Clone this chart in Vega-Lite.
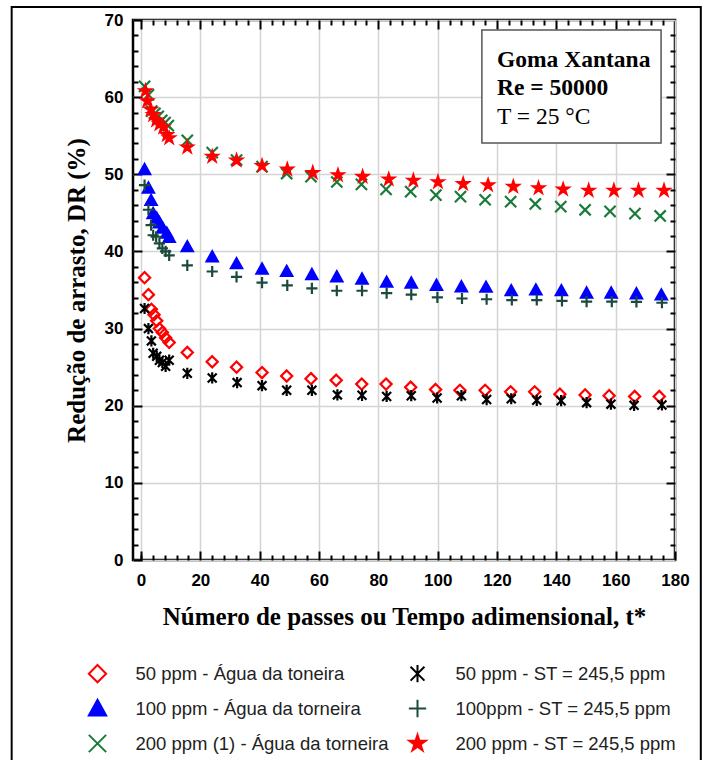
{
  "$schema": "https://vega.github.io/schema/vega-lite/v6.json",
  "autosize": "none",
  "width": 542,
  "height": 540,
  "padding": {"left": 133, "top": 20, "right": 29, "bottom": 200},
  "background": "white",
  "config": {
    "font": "Liberation Sans",
    "view": {"stroke": "black", "strokeWidth": 2.5}
  },
  "datasets": {
    "dr": [
      {"s": "50  ppm - Água da toneira", "t": 1.2, "dr": 36.6},
      {"s": "50  ppm - Água da toneira", "t": 2.5, "dr": 34.4},
      {"s": "50  ppm - Água da toneira", "t": 3.5, "dr": 32.5},
      {"s": "50  ppm - Água da toneira", "t": 4.4, "dr": 31.8},
      {"s": "50  ppm - Água da toneira", "t": 5.3, "dr": 31.0},
      {"s": "50  ppm - Água da toneira", "t": 6.2, "dr": 30.0},
      {"s": "50  ppm - Água da toneira", "t": 7.2, "dr": 29.5},
      {"s": "50  ppm - Água da toneira", "t": 8.3, "dr": 28.8},
      {"s": "50  ppm - Água da toneira", "t": 9.5, "dr": 28.2},
      {"s": "50  ppm - Água da toneira", "t": 15.6, "dr": 26.9},
      {"s": "50  ppm - Água da toneira", "t": 24.0, "dr": 25.7},
      {"s": "50  ppm - Água da toneira", "t": 32.2, "dr": 25.0},
      {"s": "50  ppm - Água da toneira", "t": 40.8, "dr": 24.3},
      {"s": "50  ppm - Água da toneira", "t": 49.1, "dr": 23.85},
      {"s": "50  ppm - Água da toneira", "t": 57.3, "dr": 23.5},
      {"s": "50  ppm - Água da toneira", "t": 65.8, "dr": 23.3},
      {"s": "50  ppm - Água da toneira", "t": 74.4, "dr": 22.8},
      {"s": "50  ppm - Água da toneira", "t": 82.6, "dr": 22.8},
      {"s": "50  ppm - Água da toneira", "t": 90.9, "dr": 22.4},
      {"s": "50  ppm - Água da toneira", "t": 99.3, "dr": 22.1},
      {"s": "50  ppm - Água da toneira", "t": 107.5, "dr": 22.0},
      {"s": "50  ppm - Água da toneira", "t": 116.0, "dr": 22.0},
      {"s": "50  ppm - Água da toneira", "t": 124.6, "dr": 21.8},
      {"s": "50  ppm - Água da toneira", "t": 132.7, "dr": 21.8},
      {"s": "50  ppm - Água da toneira", "t": 141.2, "dr": 21.5},
      {"s": "50  ppm - Água da toneira", "t": 149.7, "dr": 21.4},
      {"s": "50  ppm - Água da toneira", "t": 157.8, "dr": 21.3},
      {"s": "50  ppm - Água da toneira", "t": 166.4, "dr": 21.2},
      {"s": "50  ppm - Água da toneira", "t": 174.7, "dr": 21.2},

      {"s": "50 ppm - ST = 245,5 ppm", "t": 1.2, "dr": 32.6},
      {"s": "50 ppm - ST = 245,5 ppm", "t": 2.5, "dr": 30.0},
      {"s": "50 ppm - ST = 245,5 ppm", "t": 3.5, "dr": 28.4},
      {"s": "50 ppm - ST = 245,5 ppm", "t": 4.1, "dr": 26.8},
      {"s": "50 ppm - ST = 245,5 ppm", "t": 5.3, "dr": 26.4},
      {"s": "50 ppm - ST = 245,5 ppm", "t": 6.2, "dr": 25.9},
      {"s": "50 ppm - ST = 245,5 ppm", "t": 7.2, "dr": 25.6},
      {"s": "50 ppm - ST = 245,5 ppm", "t": 8.3, "dr": 25.1},
      {"s": "50 ppm - ST = 245,5 ppm", "t": 9.5, "dr": 25.9},
      {"s": "50 ppm - ST = 245,5 ppm", "t": 15.6, "dr": 24.2},
      {"s": "50 ppm - ST = 245,5 ppm", "t": 24.0, "dr": 23.6},
      {"s": "50 ppm - ST = 245,5 ppm", "t": 32.4, "dr": 23.0},
      {"s": "50 ppm - ST = 245,5 ppm", "t": 40.8, "dr": 22.6},
      {"s": "50 ppm - ST = 245,5 ppm", "t": 49.1, "dr": 22.0},
      {"s": "50 ppm - ST = 245,5 ppm", "t": 57.6, "dr": 22.0},
      {"s": "50 ppm - ST = 245,5 ppm", "t": 66.2, "dr": 21.4},
      {"s": "50 ppm - ST = 245,5 ppm", "t": 74.5, "dr": 21.35},
      {"s": "50 ppm - ST = 245,5 ppm", "t": 82.8, "dr": 21.2},
      {"s": "50 ppm - ST = 245,5 ppm", "t": 91.1, "dr": 21.3},
      {"s": "50 ppm - ST = 245,5 ppm", "t": 99.8, "dr": 21.0},
      {"s": "50 ppm - ST = 245,5 ppm", "t": 108.0, "dr": 21.3},
      {"s": "50 ppm - ST = 245,5 ppm", "t": 116.5, "dr": 20.8},
      {"s": "50 ppm - ST = 245,5 ppm", "t": 124.8, "dr": 20.9},
      {"s": "50 ppm - ST = 245,5 ppm", "t": 133.4, "dr": 20.7},
      {"s": "50 ppm - ST = 245,5 ppm", "t": 141.6, "dr": 20.65},
      {"s": "50 ppm - ST = 245,5 ppm", "t": 150.2, "dr": 20.4},
      {"s": "50 ppm - ST = 245,5 ppm", "t": 158.4, "dr": 20.2},
      {"s": "50 ppm - ST = 245,5 ppm", "t": 166.2, "dr": 20.05},
      {"s": "50 ppm - ST = 245,5 ppm", "t": 175.6, "dr": 20.1},

      {"s": "100 ppm - Água da torneira", "t": 1.2, "dr": 50.6},
      {"s": "100 ppm - Água da torneira", "t": 2.5, "dr": 48.2},
      {"s": "100 ppm - Água da torneira", "t": 3.4, "dr": 46.6},
      {"s": "100 ppm - Água da torneira", "t": 4.1, "dr": 44.9},
      {"s": "100 ppm - Água da torneira", "t": 5.3, "dr": 44.3},
      {"s": "100 ppm - Água da torneira", "t": 6.2, "dr": 43.7},
      {"s": "100 ppm - Água da torneira", "t": 7.3, "dr": 43.0},
      {"s": "100 ppm - Água da torneira", "t": 8.7, "dr": 42.35},
      {"s": "100 ppm - Água da torneira", "t": 9.5, "dr": 41.8},
      {"s": "100 ppm - Água da torneira", "t": 15.6, "dr": 40.6},
      {"s": "100 ppm - Água da torneira", "t": 24.0, "dr": 39.3},
      {"s": "100 ppm - Água da torneira", "t": 32.2, "dr": 38.4},
      {"s": "100 ppm - Água da torneira", "t": 40.8, "dr": 37.7},
      {"s": "100 ppm - Água da torneira", "t": 49.1, "dr": 37.4},
      {"s": "100 ppm - Água da torneira", "t": 57.6, "dr": 37.0},
      {"s": "100 ppm - Água da torneira", "t": 66.0, "dr": 36.7},
      {"s": "100 ppm - Água da torneira", "t": 74.5, "dr": 36.4},
      {"s": "100 ppm - Água da torneira", "t": 82.8, "dr": 36.0},
      {"s": "100 ppm - Água da torneira", "t": 91.1, "dr": 35.9},
      {"s": "100 ppm - Água da torneira", "t": 99.6, "dr": 35.6},
      {"s": "100 ppm - Água da torneira", "t": 108.0, "dr": 35.4},
      {"s": "100 ppm - Água da torneira", "t": 116.3, "dr": 35.35},
      {"s": "100 ppm - Água da torneira", "t": 124.8, "dr": 34.9},
      {"s": "100 ppm - Água da torneira", "t": 133.1, "dr": 35.0},
      {"s": "100 ppm - Água da torneira", "t": 141.7, "dr": 34.9},
      {"s": "100 ppm - Água da torneira", "t": 150.2, "dr": 34.6},
      {"s": "100 ppm - Água da torneira", "t": 158.5, "dr": 34.6},
      {"s": "100 ppm - Água da torneira", "t": 167.0, "dr": 34.5},
      {"s": "100 ppm - Água da torneira", "t": 175.4, "dr": 34.35},

      {"s": "100ppm - ST = 245,5 ppm", "t": 1.2, "dr": 48.6},
      {"s": "100ppm - ST = 245,5 ppm", "t": 2.5, "dr": 45.4},
      {"s": "100ppm - ST = 245,5 ppm", "t": 3.4, "dr": 43.4},
      {"s": "100ppm - ST = 245,5 ppm", "t": 4.1, "dr": 42.1},
      {"s": "100ppm - ST = 245,5 ppm", "t": 5.1, "dr": 41.9},
      {"s": "100ppm - ST = 245,5 ppm", "t": 6.2, "dr": 41.05},
      {"s": "100ppm - ST = 245,5 ppm", "t": 7.2, "dr": 40.4},
      {"s": "100ppm - ST = 245,5 ppm", "t": 8.3, "dr": 40.0},
      {"s": "100ppm - ST = 245,5 ppm", "t": 9.5, "dr": 39.5},
      {"s": "100ppm - ST = 245,5 ppm", "t": 15.6, "dr": 38.2},
      {"s": "100ppm - ST = 245,5 ppm", "t": 24.0, "dr": 37.4},
      {"s": "100ppm - ST = 245,5 ppm", "t": 32.2, "dr": 36.7},
      {"s": "100ppm - ST = 245,5 ppm", "t": 40.8, "dr": 35.95},
      {"s": "100ppm - ST = 245,5 ppm", "t": 49.3, "dr": 35.6},
      {"s": "100ppm - ST = 245,5 ppm", "t": 57.6, "dr": 35.2},
      {"s": "100ppm - ST = 245,5 ppm", "t": 66.0, "dr": 34.9},
      {"s": "100ppm - ST = 245,5 ppm", "t": 74.5, "dr": 34.9},
      {"s": "100ppm - ST = 245,5 ppm", "t": 82.8, "dr": 34.6},
      {"s": "100ppm - ST = 245,5 ppm", "t": 91.1, "dr": 34.4},
      {"s": "100ppm - ST = 245,5 ppm", "t": 99.9, "dr": 34.05},
      {"s": "100ppm - ST = 245,5 ppm", "t": 108.2, "dr": 33.9},
      {"s": "100ppm - ST = 245,5 ppm", "t": 116.5, "dr": 33.8},
      {"s": "100ppm - ST = 245,5 ppm", "t": 125.0, "dr": 33.7},
      {"s": "100ppm - ST = 245,5 ppm", "t": 133.4, "dr": 33.7},
      {"s": "100ppm - ST = 245,5 ppm", "t": 141.9, "dr": 33.6},
      {"s": "100ppm - ST = 245,5 ppm", "t": 150.2, "dr": 33.5},
      {"s": "100ppm - ST = 245,5 ppm", "t": 158.7, "dr": 33.5},
      {"s": "100ppm - ST = 245,5 ppm", "t": 167.0, "dr": 33.45},
      {"s": "100ppm - ST = 245,5 ppm", "t": 175.6, "dr": 33.35},

      {"s": "200 ppm (1) - Água da torneira", "t": 1.2, "dr": 61.4},
      {"s": "200 ppm (1) - Água da torneira", "t": 2.5, "dr": 60.3},
      {"s": "200 ppm (1) - Água da torneira", "t": 3.6, "dr": 58.2},
      {"s": "200 ppm (1) - Água da torneira", "t": 4.7, "dr": 57.9},
      {"s": "200 ppm (1) - Água da torneira", "t": 5.8, "dr": 57.5},
      {"s": "200 ppm (1) - Água da torneira", "t": 7.0, "dr": 57.0},
      {"s": "200 ppm (1) - Água da torneira", "t": 8.1, "dr": 56.7},
      {"s": "200 ppm (1) - Água da torneira", "t": 9.2, "dr": 56.3},
      {"s": "200 ppm (1) - Água da torneira", "t": 15.6, "dr": 54.4},
      {"s": "200 ppm (1) - Água da torneira", "t": 24.0, "dr": 52.8},
      {"s": "200 ppm (1) - Água da torneira", "t": 32.2, "dr": 51.85},
      {"s": "200 ppm (1) - Água da torneira", "t": 40.8, "dr": 51.0},
      {"s": "200 ppm (1) - Água da torneira", "t": 49.1, "dr": 50.1},
      {"s": "200 ppm (1) - Água da torneira", "t": 57.3, "dr": 49.7},
      {"s": "200 ppm (1) - Água da torneira", "t": 66.0, "dr": 49.0},
      {"s": "200 ppm (1) - Água da torneira", "t": 74.3, "dr": 48.7},
      {"s": "200 ppm (1) - Água da torneira", "t": 82.6, "dr": 48.05},
      {"s": "200 ppm (1) - Água da torneira", "t": 90.9, "dr": 47.75},
      {"s": "200 ppm (1) - Água da torneira", "t": 99.4, "dr": 47.3},
      {"s": "200 ppm (1) - Água da torneira", "t": 107.7, "dr": 47.1},
      {"s": "200 ppm (1) - Água da torneira", "t": 116.0, "dr": 46.7},
      {"s": "200 ppm (1) - Água da torneira", "t": 124.6, "dr": 46.45},
      {"s": "200 ppm (1) - Água da torneira", "t": 132.9, "dr": 46.15},
      {"s": "200 ppm (1) - Água da torneira", "t": 141.5, "dr": 45.8},
      {"s": "200 ppm (1) - Água da torneira", "t": 149.7, "dr": 45.4},
      {"s": "200 ppm (1) - Água da torneira", "t": 158.1, "dr": 45.2},
      {"s": "200 ppm (1) - Água da torneira", "t": 166.5, "dr": 44.9},
      {"s": "200 ppm (1) - Água da torneira", "t": 175.0, "dr": 44.6},

      {"s": "200 ppm - ST = 245,5 ppm", "t": 1.5, "dr": 60.8},
      {"s": "200 ppm - ST = 245,5 ppm", "t": 2.1, "dr": 59.5},
      {"s": "200 ppm - ST = 245,5 ppm", "t": 3.3, "dr": 58.4},
      {"s": "200 ppm - ST = 245,5 ppm", "t": 4.1, "dr": 57.7},
      {"s": "200 ppm - ST = 245,5 ppm", "t": 5.1, "dr": 57.0},
      {"s": "200 ppm - ST = 245,5 ppm", "t": 6.2, "dr": 56.5},
      {"s": "200 ppm - ST = 245,5 ppm", "t": 7.5, "dr": 56.1},
      {"s": "200 ppm - ST = 245,5 ppm", "t": 8.7, "dr": 55.1},
      {"s": "200 ppm - ST = 245,5 ppm", "t": 9.5, "dr": 54.7},
      {"s": "200 ppm - ST = 245,5 ppm", "t": 15.6, "dr": 53.5},
      {"s": "200 ppm - ST = 245,5 ppm", "t": 24.0, "dr": 52.3},
      {"s": "200 ppm - ST = 245,5 ppm", "t": 32.2, "dr": 51.8},
      {"s": "200 ppm - ST = 245,5 ppm", "t": 40.8, "dr": 51.1},
      {"s": "200 ppm - ST = 245,5 ppm", "t": 49.3, "dr": 50.65},
      {"s": "200 ppm - ST = 245,5 ppm", "t": 57.9, "dr": 50.2},
      {"s": "200 ppm - ST = 245,5 ppm", "t": 66.4, "dr": 49.9},
      {"s": "200 ppm - ST = 245,5 ppm", "t": 74.7, "dr": 49.7},
      {"s": "200 ppm - ST = 245,5 ppm", "t": 83.5, "dr": 49.35},
      {"s": "200 ppm - ST = 245,5 ppm", "t": 91.8, "dr": 49.2},
      {"s": "200 ppm - ST = 245,5 ppm", "t": 100.1, "dr": 49.0},
      {"s": "200 ppm - ST = 245,5 ppm", "t": 108.6, "dr": 48.75},
      {"s": "200 ppm - ST = 245,5 ppm", "t": 117.0, "dr": 48.6},
      {"s": "200 ppm - ST = 245,5 ppm", "t": 125.5, "dr": 48.4},
      {"s": "200 ppm - ST = 245,5 ppm", "t": 134.0, "dr": 48.2},
      {"s": "200 ppm - ST = 245,5 ppm", "t": 142.3, "dr": 48.05},
      {"s": "200 ppm - ST = 245,5 ppm", "t": 150.9, "dr": 47.9},
      {"s": "200 ppm - ST = 245,5 ppm", "t": 159.4, "dr": 47.9},
      {"s": "200 ppm - ST = 245,5 ppm", "t": 167.7, "dr": 47.9},
      {"s": "200 ppm - ST = 245,5 ppm", "t": 176.3, "dr": 47.9}
    ]
  },
  "data": {"name": "dr"},
  "resolve": {"axis": {"x": "independent", "y": "independent"}},
  "layer": [
    {
      "mark": {"type": "point", "opacity": 0},
      "encoding": {
        "x": {"field": "t", "type": "quantitative", "scale": {"domain": [-2.7, 180], "nice": false, "zero": false},
          "axis": {"orient": "bottom", "values": [0,4,8,12,16,24,28,32,36,44,48,52,56,64,68,72,76,84,88,92,96,104,108,112,116,124,128,132,136,144,148,152,156,164,168,172,176], "tickSize": -5, "tickWidth": 2, "tickColor": "black", "labels": false, "domain": false, "grid": false, "title": null}},
        "y": {"field": "dr", "type": "quantitative", "scale": {"domain": [0, 70], "nice": false, "zero": false},
          "axis": {"orient": "left", "values": [2,4,6,8,12,14,16,18,22,24,26,28,32,34,36,38,42,44,46,48,52,54,56,58,62,64,66,68], "tickSize": -5, "tickWidth": 2, "tickColor": "black", "labels": false, "domain": false, "grid": false, "title": null}}
      }
    },
    {
      "mark": {"type": "point", "opacity": 0},
      "encoding": {
        "x": {"field": "t", "type": "quantitative",
          "axis": {"orient": "top", "values": [0,20,40,60,80,100,120,140,160], "tickSize": -9, "tickWidth": 2, "tickColor": "black", "labels": false, "domain": false, "grid": false, "title": null}},
        "y": {"field": "dr", "type": "quantitative",
          "axis": {"orient": "right", "values": [10,20,30,40,50,60], "tickSize": -9, "tickWidth": 2, "tickColor": "black", "labels": false, "domain": false, "grid": false, "title": null}}
      }
    },
    {
      "mark": {"type": "point", "opacity": 0},
      "encoding": {
        "x": {"field": "t", "type": "quantitative",
          "axis": {"orient": "top", "values": [4,8,12,16,24,28,32,36,44,48,52,56,64,68,72,76,84,88,92,96,104,108,112,116,124,128,132,136,144,148,152,156,164,168,172,176], "tickSize": -5, "tickWidth": 2, "tickColor": "black", "labels": false, "domain": false, "grid": false, "title": null}},
        "y": {"field": "dr", "type": "quantitative",
          "axis": {"orient": "right", "values": [2,4,6,8,12,14,16,18,22,24,26,28,32,34,36,38,42,44,46,48,52,54,56,58,62,64,66,68], "tickSize": -5, "tickWidth": 2, "tickColor": "black", "labels": false, "domain": false, "grid": false, "title": null}}
      }
    },
    {
      "mark": {"type": "rect", "fill": null, "stroke": "black", "strokeWidth": 2, "clip": false},
      "data": {"values": [{}]},
      "encoding": {
        "x": {"datum": -43.6, "type": "quantitative", "axis": null},
        "x2": {"datum": 188.7},
        "y": {"datum": 71.7, "type": "quantitative", "axis": null},
        "y2": {"datum": -30}
      }
    },
    {
      "mark": {"type": "rect", "fill": "white", "stroke": "#555555", "strokeWidth": 1.5},
      "data": {"values": [{}]},
      "encoding": {
        "x": {"datum": 114.9, "type": "quantitative", "axis": null},
        "x2": {"datum": 175.3},
        "y": {"datum": 68.7, "type": "quantitative", "axis": null},
        "y2": {"datum": 54.06}
      }
    },
    {
      "mark": {"type": "text", "text": "Goma Xantana", "font": "Liberation Serif", "fontSize": 23.5, "fontWeight": "bold", "align": "left", "baseline": "middle", "color": "black"},
      "data": {"values": [{}]},
      "encoding": {
        "x": {"datum": 120, "type": "quantitative", "axis": null},
        "y": {"datum": 64.8, "type": "quantitative", "axis": null}
      }
    },
    {
      "mark": {"type": "text", "text": "Re = 50000", "font": "Liberation Serif", "fontSize": 23.5, "fontWeight": "bold", "align": "left", "baseline": "middle", "color": "black"},
      "data": {"values": [{}]},
      "encoding": {
        "x": {"datum": 120, "type": "quantitative", "axis": null},
        "y": {"datum": 61.2, "type": "quantitative", "axis": null}
      }
    },
    {
      "mark": {"type": "text", "text": "T = 25 °C", "font": "Liberation Serif", "fontSize": 23.5, "fontWeight": "normal", "align": "left", "baseline": "middle", "color": "black"},
      "data": {"values": [{}]},
      "encoding": {
        "x": {"datum": 120, "type": "quantitative", "axis": null},
        "y": {"datum": 57.4, "type": "quantitative", "axis": null}
      }
    },
    {
      "mark": {"type": "point", "opacity": 1, "strokeWidth": 2.2, "size": 125},
      "encoding": {
        "x": {"field": "t", "type": "quantitative",
          "axis": {"orient": "bottom", "values": [0,20,40,60,80,100,120,140,160,180], "tickSize": -9, "tickWidth": 2, "tickColor": "black", "labelFont": "Liberation Sans", "labelFontWeight": "bold", "labelFontSize": 17, "labelColor": "black", "labelPadding": 21, "labelFlush": false, "labelOverlap": false, "domain": false, "grid": true, "gridColor": "#d4d4d4", "gridWidth": 1.5,
            "title": "Número de passes ou Tempo adimensional, t*", "titleFont": "Liberation Serif", "titleFontSize": 25, "titleFontWeight": "bold", "titleColor": "black", "titlePadding": 16}},
        "y": {"field": "dr", "type": "quantitative",
          "axis": {"orient": "left", "values": [0,10,20,30,40,50,60,70], "tickSize": -9, "tickWidth": 2, "tickColor": "black", "labelFont": "Liberation Sans", "labelFontWeight": "bold", "labelFontSize": 17, "labelColor": "black", "labelPadding": 19, "labelFlush": false, "labelOverlap": false, "domain": false, "grid": true, "gridColor": "#d4d4d4", "gridWidth": 1.5,
            "title": "Redução de arrasto, DR (%)", "titleFont": "Liberation Serif", "titleFontSize": 25, "titleFontWeight": "bold", "titleColor": "black", "titlePadding": 15}},
        "shape": {"field": "s", "type": "nominal",
          "scale": {"domain": ["50  ppm - Água da toneira", "100 ppm - Água da torneira", "200 ppm (1) - Água da torneira", "50 ppm - ST = 245,5 ppm", "100ppm - ST = 245,5 ppm", "200 ppm - ST = 245,5 ppm"],
            "range": ["M0,-1L1,0L0,1L-1,0Z", "M0,-1L1,0.8L-1,0.8Z", "M-1,-1L1,1M-1,1L1,-1", "M0,-1L0,1M-0.8,-0.8L0.8,0.8M-0.8,0.8L0.8,-0.8", "M-1,0L1,0M0,-1L0,1", "M0,-1L0.225,-0.309L0.951,-0.309L0.363,0.118L0.588,0.809L0,0.382L-0.588,0.809L-0.363,0.118L-0.951,-0.309L-0.225,-0.309Z"]},
          "legend": {"title": null, "orient": "none", "legendX": -45.5, "legendY": 643.5, "columns": 2, "columnPadding": 16, "rowPadding": 9, "symbolSize": 300, "symbolStrokeWidth": 2, "labelFont": "Liberation Sans", "labelFontSize": 18.5, "labelColor": "#222222", "labelOffset": 28, "labelLimit": 400, "padding": 0}},
        "fill": {"field": "s", "type": "nominal",
          "scale": {"domain": ["50  ppm - Água da toneira", "100 ppm - Água da torneira", "200 ppm (1) - Água da torneira", "50 ppm - ST = 245,5 ppm", "100ppm - ST = 245,5 ppm", "200 ppm - ST = 245,5 ppm"],
            "range": ["transparent", "#0000ff", "transparent", "transparent", "transparent", "#ff0000"]},
          "legend": {"title": null, "orient": "none", "legendX": -45.5, "legendY": 643.5, "columns": 2, "columnPadding": 16, "rowPadding": 9, "symbolSize": 300, "symbolStrokeWidth": 2, "labelFont": "Liberation Sans", "labelFontSize": 18.5, "labelColor": "#222222", "labelOffset": 28, "labelLimit": 400, "padding": 0}},
        "stroke": {"field": "s", "type": "nominal",
          "scale": {"domain": ["50  ppm - Água da toneira", "100 ppm - Água da torneira", "200 ppm (1) - Água da torneira", "50 ppm - ST = 245,5 ppm", "100ppm - ST = 245,5 ppm", "200 ppm - ST = 245,5 ppm"],
            "range": ["#ff0000", "#0000ff", "#1a7a3c", "#000000", "#1b4a3c", "#ff0000"]},
          "legend": {"title": null, "orient": "none", "legendX": -45.5, "legendY": 643.5, "columns": 2, "columnPadding": 16, "rowPadding": 9, "symbolSize": 300, "symbolStrokeWidth": 2, "labelFont": "Liberation Sans", "labelFontSize": 18.5, "labelColor": "#222222", "labelOffset": 28, "labelLimit": 400, "padding": 0}}
      }
    }
  ]
}
